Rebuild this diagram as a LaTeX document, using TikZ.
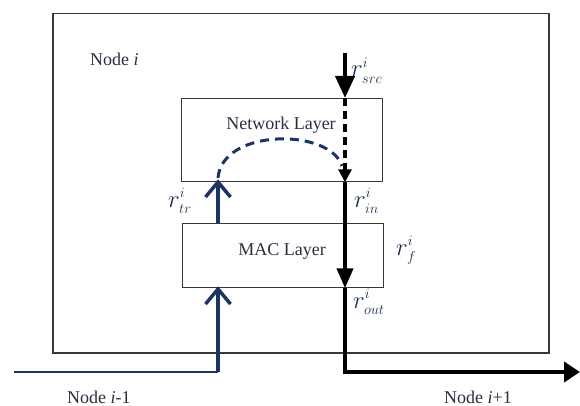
\documentclass[tikz,border=0pt]{standalone}
\usepackage{fontspec}
\setmainfont{Liberation Serif}
\usetikzlibrary{arrows.meta}
\definecolor{navy}{RGB}{28,52,100}
\definecolor{txt}{RGB}{45,45,65}
\definecolor{lab}{RGB}{30,45,85}
\definecolor{frame}{RGB}{55,55,55}
\newcommand\rlab[2]{$r^{\scriptscriptstyle #1}_{\scriptscriptstyle #2}$}
\begin{document}
\begin{tikzpicture}[x=1pt,y=-1pt,
 box/.style={draw=frame,line width=1.3pt,inner sep=0,anchor=north west},
 txtnode/.style={text=txt,font=\fontsize{18}{20}\selectfont,inner sep=0},
 rnode/.style={text=lab,font=\fontsize{31}{33}\selectfont,inner sep=0,anchor=base west},
 blk/.style={line width=4pt,black},
 blu/.style={line width=3.5pt,navy},
 chev/.style={-{Straight Barb[length=15pt,width=25pt]}},
]
\useasboundingbox (0,0) rectangle (580,406);
\node[box,line width=1.5pt,minimum width=496pt,minimum height=339pt] (outer) at (52,13) {};
\node[box,minimum width=201pt,minimum height=83pt] (net) at (181,98) {};
\node[box,minimum width=201pt,minimum height=64pt] (mac) at (182,223) {};
\node[txtnode] (nettxt) at (281,125) {Network Layer};
\node[txtnode] (mactxt) at (282,251) {MAC Layer};
\node[txtnode,anchor=west] (nodei) at (90,59) {Node \textit{i}};
\node[txtnode,anchor=west] (nodeprev) at (67,397) {Node \textit{i}-1};
\node[txtnode,anchor=west] (nodenext) at (444,397) {Node \textit{i}+1};
% coordinates
\coordinate (src) at (345,53);
\coordinate (bend) at (345,372);
\coordinate (outend) at (580,372);
\coordinate (bstart) at (14,372);
\coordinate (bbend) at (218,372);
\coordinate (arcs) at (218,178);
\coordinate (arce) at (342,166);
% black flow
\draw[blk,-{Triangle[length=22pt,width=19pt]}] (src) -- (src |- net.north);
\draw[line width=3.2pt,dash pattern=on 8pt off 5pt,-{Triangle[length=13pt,width=13pt]}] (src |- net.north) -- (src |- net.south);
\draw[blk,-{Triangle[length=20pt,width=16pt]}] (src |- net.south) -- (src |- mac.south);
\draw[blk,line join=miter,-{Triangle[length=16pt,width=20pt]}] (src |- mac.south) -- (bend) -- (outend);
% blue flow
\draw[navy,line width=2.5pt] (bstart) -- (bbend);
\draw[blu,chev,shorten >=-2pt] (bbend) -- (bbend |- mac.south);
\draw[blu,chev,shorten >=-3pt] (bbend |- mac.north) -- (bbend |- net.south);
\draw[navy,line width=3pt,dash pattern=on 9pt off 6pt] (arcs) .. controls (222,128) and (330,128) .. (arce);
% labels
\node[rnode] (rsrc) at (351,77) {\rlab{i}{src}};
\node[rnode] (rtr) at (168,207) {\rlab{i}{tr}};
\node[rnode] (rin) at (354,207) {\rlab{i}{in}};
\node[rnode] (rf) at (396,255) {\rlab{i}{f}};
\node[rnode] (rout) at (353,308) {\rlab{i}{out}};
\end{tikzpicture}
\end{document}
